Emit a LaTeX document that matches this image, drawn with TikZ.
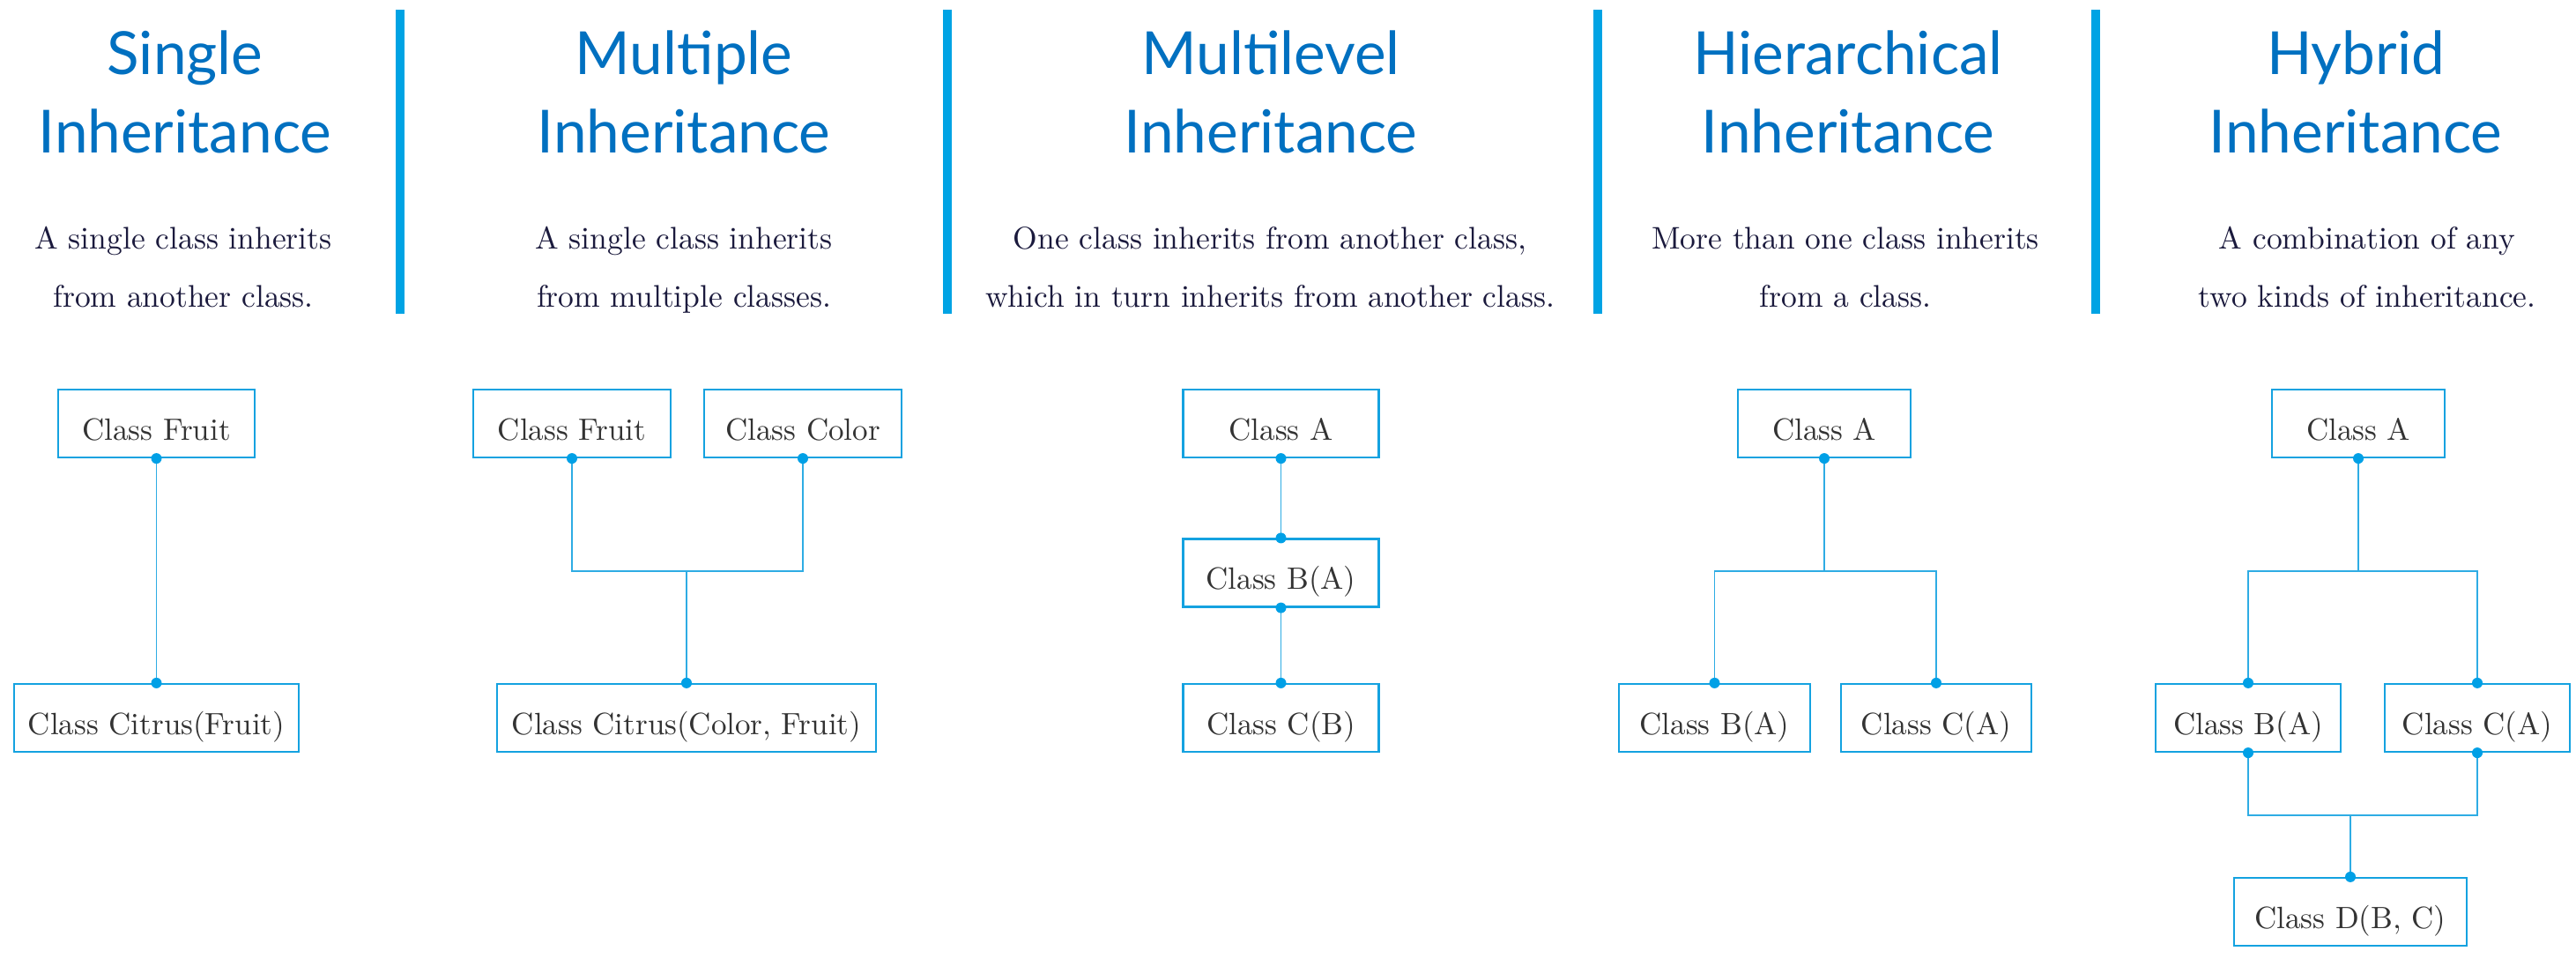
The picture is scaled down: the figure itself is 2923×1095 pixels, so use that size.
\documentclass[tikz,border=0pt]{standalone}
\usepackage{fontspec}
\setmainfont{Latin Modern Roman}
\newfontfamily\titlefont{Lato}
\newfontfamily\descfont{lmroman10-regular.otf}
\definecolor{titleblue}{HTML}{0070C0}
\definecolor{barblue}{HTML}{00A3E4}
\definecolor{boxblue}{HTML}{14A2E0}
\definecolor{lineblue}{HTML}{2EACE4}
\definecolor{dotblue}{HTML}{00A0E6}
\definecolor{desctext}{HTML}{1B1A3D}
\definecolor{boxtext}{HTML}{333333}
\begin{document}
\begin{tikzpicture}[x=1pt,y=1pt,
  ttl/.style={anchor=base,inner sep=0pt,text=titleblue,font=\titlefont\fontsize{67.5}{80}\selectfont},
  dsc/.style={anchor=base,inner sep=0pt,text=desctext,font=\descfont\fontsize{35.5}{42}\selectfont},
  cls/.style={draw=boxblue,line width=2.2pt,rectangle,inner sep=0pt,minimum height=77pt,
    text height=37pt,text depth=0pt,text=boxtext,font=\descfont\fontsize{35}{42}\selectfont},
  conn/.style={draw=lineblue,line width=1.4pt},
  bar/.style={fill=barblue,draw=none},
  dotc/.style={fill=dotblue}
]
\useasboundingbox (0,0) rectangle (2923,-1095);
\fill[white] (0,0) rectangle (2923,-1095);

% separator bars
\fill[bar] (449,-11) rectangle (459,-356);
\fill[bar] (1070,-11) rectangle (1080,-356);
\fill[bar] (1808,-11) rectangle (1818,-356);
\fill[bar] (2373,-11) rectangle (2383,-356);

% titles
\node[ttl] (t1a) at (210,-84) {Single};
\node[ttl] (t1b) at (210,-173) {Inheritance};
\node[ttl] (t2a) at (776,-84) {Multiple};
\node[ttl] (t2b) at (776,-173) {Inheritance};
\node[ttl] (t3a) at (1442,-84) {Multilevel};
\node[ttl] (t3b) at (1442,-173) {Inheritance};
\node[ttl] (t4a) at (2097,-84) {Hierarchical};
\node[ttl] (t4b) at (2097,-173) {Inheritance};
\node[ttl] (t5a) at (2673,-84) {Hybrid};
\node[ttl] (t5b) at (2673,-173) {Inheritance};

% descriptions
\node[dsc] (d1a) at (208,-282) {A single class inherits};
\node[dsc] (d1b) at (208,-348) {from another class.};
\node[dsc] (d2a) at (776,-282) {A single class inherits};
\node[dsc] (d2b) at (776,-348) {from multiple classes.};
\node[dsc] (d3a) at (1441,-282) {One class inherits from another class,};
\node[dsc] (d3b) at (1441,-348) {which in turn inherits from another class.};
\node[dsc] (d4a) at (2094,-282) {More than one class inherits};
\node[dsc] (d4b) at (2094,-348) {from a class.};
\node[dsc] (d5a) at (2686,-282) {A combination of any};
\node[dsc] (d5b) at (2686,-348) {two kinds of inheritance.};

% Single
\node[cls,minimum width=223pt] (s1) at (177.5,-480.5) {Class Fruit};
\node[cls,minimum width=323pt] (s2) at (177.5,-814.5) {Class Citrus(Fruit)};
\draw[conn] (s1.south) -- (s2.north);
\foreach \p in {s1.south,s2.north} \fill[dotc] (\p) circle (6pt);

% Multiple
\node[cls,minimum width=224pt] (m1) at (649,-480.5) {Class Fruit};
\node[cls,minimum width=224pt] (m2) at (911,-480.5) {Class Color};
\node[cls,minimum width=430pt] (m3) at (779,-814.5) {Class Citrus(Color, Fruit)};
\coordinate (jm) at (779,-648);
\draw[conn] (m1.south) |- (jm) -| (m2.south);
\draw[conn] (jm) -- (m3.north);
\foreach \p in {m1.south,m2.south,m3.north} \fill[dotc] (\p) circle (6pt);

% Multilevel
\node[cls,minimum width=222pt] (l1) at (1453.5,-480.5) {Class A};
\node[cls,minimum width=222pt] (l2) at (1453.5,-650) {Class B(A)};
\node[cls,minimum width=222pt] (l3) at (1453.5,-814.5) {Class C(B)};
\draw[conn] (l1.south) -- (l2.north);
\draw[conn] (l2.south) -- (l3.north);
\foreach \p in {l1.south,l2.north,l2.south,l3.north} \fill[dotc] (\p) circle (6pt);

% Hierarchical
\node[cls,minimum width=196pt] (h1) at (2070,-480.5) {Class A};
\node[cls,minimum width=217pt] (h2) at (1945.5,-814.5) {Class B(A)};
\node[cls,minimum width=216pt] (h3) at (2197,-814.5) {Class C(A)};
\coordinate (jh) at (2070,-648);
\draw[conn] (h1.south) -- (jh);
\draw[conn] (h2.north) |- (jh) -| (h3.north);
\foreach \p in {h1.south,h2.north,h3.north} \fill[dotc] (\p) circle (6pt);

% Hybrid
\node[cls,minimum width=196pt] (y1) at (2676,-480.5) {Class A};
\node[cls,minimum width=210pt] (y2) at (2551,-814.5) {Class B(A)};
\node[cls,minimum width=210pt] (y3) at (2811,-814.5) {Class C(A)};
\node[cls,minimum width=264pt] (y4) at (2667,-1034.5) {Class D(B, C)};
\coordinate (jy) at (2676,-648);
\coordinate (jy2) at (2667,-925);
\draw[conn] (y1.south) -- (jy);
\draw[conn] (y2.north) |- (jy) -| (y3.north);
\draw[conn] (y2.south) |- (jy2) -| (y3.south);
\draw[conn] (jy2) -- (y4.north);
\foreach \p in {y1.south,y2.north,y3.north,y2.south,y3.south,y4.north} \fill[dotc] (\p) circle (6pt);
\end{tikzpicture}
\end{document}
